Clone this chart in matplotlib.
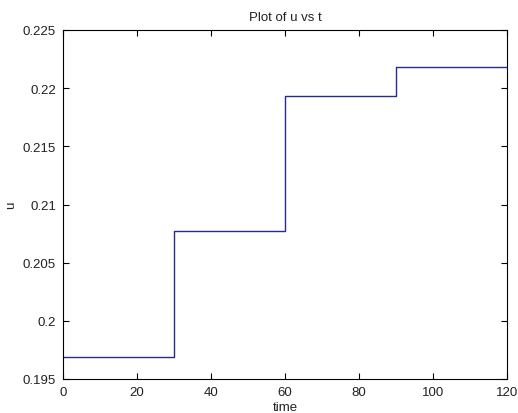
import matplotlib
matplotlib.use("Agg")
import matplotlib.pyplot as plt

t = [0, 30, 60, 90, 120]
u = [0.1969, 0.2077, 0.2193, 0.2218, 0.2218]
xticks = [0, 20, 40, 60, 80, 100, 120]
yticks = [0.195, 0.2, 0.205, 0.21, 0.215, 0.22, 0.225]
yticklabels = ["0.195", "0.2", "0.205", "0.21", "0.215", "0.22", "0.225"]

plt.rcParams['font.family'] = ['Liberation Sans', 'DejaVu Sans']
txt = '#222222'
fig = plt.figure(figsize=(5.18, 4.14), dpi=100)
ax = fig.add_axes([63/518, 34/414, 444/518, 349/414])
ax.step(t, u, where='post', color='#2a2a8c', linewidth=1.0)
ax.set_xlim(0, 120)
ax.set_ylim(0.195, 0.225)
ax.set_xticks(xticks)
ax.set_yticks(yticks)
ax.set_yticklabels(yticklabels)
ax.tick_params(direction='in', top=True, right=True, labelsize=9.5, length=4,
               width=0.8, labelcolor=txt)
ax.tick_params(axis='y', pad=5)
ax.tick_params(axis='x', pad=5)
for s in ax.spines.values():
    s.set_linewidth(0.8)
ax.set_title("Plot of u vs t", fontsize=9.5, pad=7, color=txt)
ax.set_xlabel("time", fontsize=9.5, labelpad=2, color=txt)
ax.set_ylabel("u", fontsize=9.5, labelpad=4, color=txt)
fig.savefig("out.png", dpi=100)
